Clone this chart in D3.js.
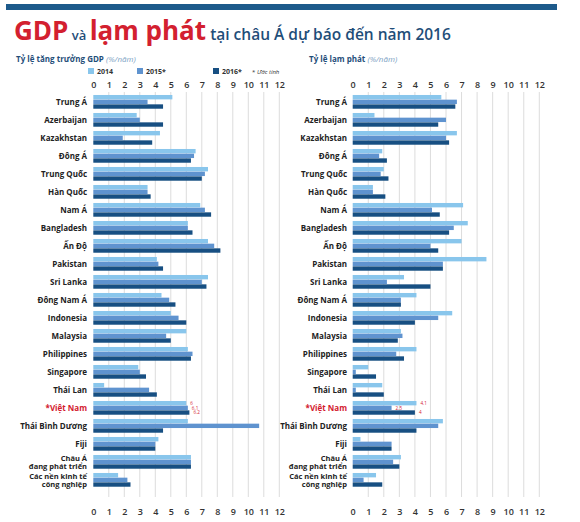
<!DOCTYPE html>
<html><head><meta charset="utf-8">
<script src="https://cdn.jsdelivr.net/npm/d3@7"></script>
<style>
body{margin:0;background:#fff;}
svg{display:block;font-family:"Open Sans","Noto Sans",sans-serif;}
</style></head>
<body><svg id="c" width="580" height="522"></svg>
<script>
const categories = ["Trung Á","Azerbaijan","Kazakhstan","Đông Á","Trung Quốc","Hàn Quốc","Nam Á","Bangladesh","Ấn Độ","Pakistan","Sri Lanka","Đông Nam Á","Indonesia","Malaysia","Philippines","Singapore","Thái Lan","*Việt Nam","Thái Bình Dương","Fiji","Châu Á\nđang phát triển","Các nền kinh tế\ncông nghiệp"];
const seriesNames = ["2014","2015*","2016*"];
const gdp2014 = [5.1,2.8,4.3,6.6,7.4,3.5,6.9,6.1,7.4,4.1,7.4,4.4,5.0,6.0,6.1,2.9,0.7,6.0,6.1,4.2,6.3,1.6];
const gdp2015 = [3.5,3.0,1.9,6.5,7.2,3.5,7.2,6.1,7.8,4.2,7.0,4.9,5.5,4.7,6.4,3.0,3.6,6.1,10.7,4.0,6.3,2.2];
const gdp2016 = [4.5,4.5,3.8,6.3,7.0,3.7,7.6,6.4,8.2,4.5,7.3,5.3,6.0,5.0,6.3,3.4,4.1,6.2,4.5,4.0,6.3,2.4];
const inf2014 = [5.7,1.4,6.7,1.9,2.0,1.3,7.1,7.4,7.0,8.6,3.3,4.1,6.4,3.1,4.1,1.0,1.9,4.1,5.8,0.5,3.1,1.5];
const inf2015 = [6.7,6.0,6.0,1.7,1.8,1.3,5.1,6.5,5.0,5.8,2.2,3.1,5.5,3.2,2.8,0.2,0.2,2.5,5.5,2.5,2.6,0.7];
const inf2016 = [6.6,5.5,6.2,2.2,2.3,2.1,5.6,6.2,5.5,5.8,5.0,3.1,4.0,2.9,3.3,1.5,2.0,4.0,4.1,2.5,3.0,1.9];
const tickValues = [0,1,2,3,4,5,6,7,8,9,10,11,12];
const vnLabelsGdp = ["6","6.1","6.2"];
const vnLabelsInf = ["4.1","2.5","4"];

const colors = ["#89c6ec","#5f93cf","#174f82"];
const red = "#d3202f", navy = "#1f4e79";
const svg = d3.select("#c");

// top band
svg.append("rect").attr("x",6).attr("y",4).attr("width",551).attr("height",6).attr("fill","#1d5a8b");

// title
const t = svg.append("text").attr("x",14).attr("y",40);
t.append("tspan").text("GDP").attr("fill",red).attr("font-weight","bold").attr("font-size",26);
t.append("tspan").text(" và ").attr("fill",navy).attr("font-size",13).attr("font-weight","600");
t.append("tspan").text("lạm phát").attr("fill",red).attr("font-weight","bold").attr("font-size",26);
t.append("tspan").text("  tại châu Á dự báo đến năm 2016").attr("fill",navy).attr("font-size",15.5).attr("font-weight","600");

function subtitle(x, main){
  const s = svg.append("text").attr("x",x).attr("y",62).attr("font-size",8).attr("fill",navy);
  s.append("tspan").text(main).attr("font-weight","bold");
  s.append("tspan").text(" (%/năm)").attr("font-style","italic").attr("fill","#7d9fc4");
}
subtitle(16,"Tỷ lệ tăng trưởng GDP");
subtitle(309,"Tỷ lệ lạm phát");

// legend
const legX = [88,137,213];
seriesNames.forEach((n,i)=>{
  svg.append("rect").attr("x",legX[i]).attr("y",68).attr("width",6).attr("height",6).attr("fill",colors[i]);
  svg.append("text").attr("x",legX[i]+9).attr("y",74).attr("font-size",7).attr("font-weight","bold").attr("fill","#333").text(n);
});
svg.append("text").attr("x",252).attr("y",74).attr("font-size",6).attr("fill","#333")
  .html('* <tspan font-style="italic">Ước tính</tspan>');

const y = d3.scaleBand().domain(categories).range([93, 93+22*18]).paddingInner(0.22).paddingOuter(0.11);
const ySub = d3.scaleBand().domain(seriesNames).range([0, y.bandwidth()]).padding(0);

function panel(x0, x1, labelX, data, vnLabels){
  const x = d3.scaleLinear().domain([0,12]).range([x0,x1]);
  const g = svg.append("g");
  // grid
  g.selectAll("line.grid").data(tickValues.slice(1)).join("line")
    .attr("x1",d=>x(d)).attr("x2",d=>x(d)).attr("y1",92).attr("y2",497)
    .attr("stroke","#dcdcdc").attr("stroke-width",1);
  // axes
  [["top",88],["bottom",509]].forEach(([pos,yy])=>{
    const ax = (pos==="top"?d3.axisTop(x):d3.axisBottom(x)).tickValues(tickValues).tickSize(0).tickPadding(0).tickFormat(d3.format("d"));
    const a = svg.append("g").attr("transform",`translate(0,${yy})`).call(ax);
    a.select(".domain").remove();
    a.selectAll("text").attr("font-size",9).attr("font-family","'Open Sans',sans-serif").attr("fill","#333").attr("font-weight","600");
    if(pos==="top") a.selectAll("text").attr("dy","0");
    else a.selectAll("text").attr("dy","0.71em");
  });
  // bars
  categories.forEach((c,ci)=>{
    seriesNames.forEach((s,si)=>{
      g.append("rect").attr("x",x(0)).attr("y",y(c)+ySub(s))
        .attr("width",x(data[si][ci])-x(0)).attr("height",ySub.bandwidth()-0.3)
        .attr("fill",colors[si]);
    });
    const lines = c.split("\n");
    const cy = y(c)+y.bandwidth()/2;
    const lt = svg.append("text").attr("x",labelX).attr("text-anchor","end")
      .attr("font-size",lines.length>1?7.5:8).attr("font-weight","bold")
      .attr("fill", c.startsWith("*")?red:"#222");
    lines.forEach((l,li)=>{
      lt.append("tspan").attr("x",labelX).attr("y",cy+3+(li-(lines.length-1)/2)*8.6).text(l);
    });
  });
  // Vietnam value labels
  const vc = "*Việt Nam";
  vnLabels.forEach((v,i)=>{
    svg.append("text").attr("x",x(data[i][17])+4).attr("y",y(vc)+ySub(seriesNames[i])+4)
      .attr("font-size",4.6).attr("fill",red).text(v);
  });
}
panel(93.3,279.3,87,[gdp2014,gdp2015,gdp2016],vnLabelsGdp);
panel(352.7,539.3,347,[inf2014,inf2015,inf2016],vnLabelsInf);
</script></body></html>
